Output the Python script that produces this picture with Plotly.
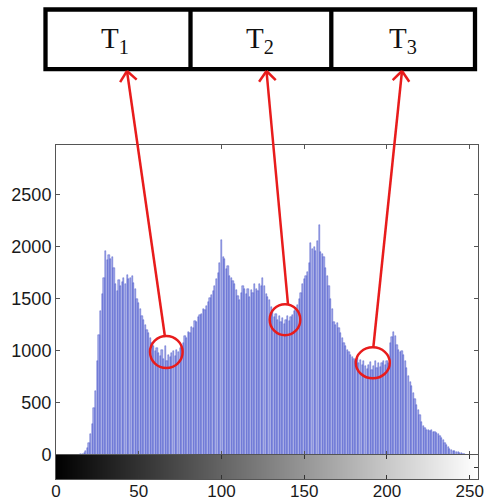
import math
import plotly.graph_objects as go

# ---------------- data ----------------
intensity = list(range(256))
counts = (
    [0] * 15 +
    [5, 10, 20, 40, 70, 120, 200, 300, 450, 620,            # 15-24
     900, 1150, 1380, 1550, 1700, 1960, 1870, 1920, 1880, 1900,   # 25-34
     1800, 1640, 1580, 1680, 1620, 1660, 1700, 1640, 1730, 1690,  # 35-44
     1700, 1720, 1650, 1600, 1500, 1460, 1400, 1340, 1300, 1250,  # 45-54
     1200, 1170, 1120, 1080, 1050, 1000, 1030, 980, 950, 1010,    # 55-64
     920, 1050, 900, 960, 940, 980, 1000, 950, 1010, 990,         # 65-74
     1030, 1050, 1080, 1140, 1120, 1180, 1170, 1230, 1220, 1290,  # 75-84
     1280, 1330, 1350, 1360, 1400, 1390, 1430, 1470, 1510, 1540,  # 85-94
     1580, 1620, 1690, 1750, 1850, 2070, 1900, 1880, 1790, 1820,  # 95-104
     1720, 1700, 1670, 1640, 1590, 1530, 1490, 1560, 1620, 1600,  # 105-114
     1550, 1600, 1520, 1590, 1560, 1640, 1600, 1580, 1640, 1620,  # 115-124
     1700, 1620, 1550, 1520, 1490, 1420, 1380, 1330, 1360, 1300,  # 125-134
     1340, 1280, 1320, 1260, 1300, 1340, 1290, 1330, 1350, 1380,  # 135-144
     1400, 1440, 1500, 1560, 1640, 1690, 1720, 1760, 1850, 2040,  # 145-154
     1980, 2000, 1960, 2060, 2210, 1950, 1930, 1900, 1800, 1720,  # 155-164
     1620, 1500, 1400, 1280, 1250, 1270, 1220, 1170, 1120, 1080,  # 165-174
     1050, 1010, 990, 960, 940, 920, 900, 930, 880, 910,          # 175-184
     870, 900, 860, 830, 870, 890, 820, 860, 900, 840,            # 185-194
     880, 850, 880, 900, 870, 900, 880, 1080, 1130, 1180,         # 195-204
     1140, 1060, 1010, 990, 1000, 960, 900, 840, 760, 700,        # 205-214
     660, 600, 540, 480, 430, 380, 320, 280, 260, 240,            # 215-224
     245, 230, 240, 220, 225, 210, 200, 180, 160, 140,            # 225-234
     120, 100, 80, 60, 50, 40, 35, 30, 25, 20,                    # 235-244
     15, 10, 5, 2] +                                              # 245-248
    [0] * 7
)
x_ticks = [0, 50, 100, 150, 200, 250]
y_ticks = [0, 500, 1000, 1500, 2000, 2500]
threshold_labels = ["T<sub>1</sub>", "T<sub>2</sub>", "T<sub>3</sub>"]

# ---------------- helpers (pixel -> paper) ----------------
W, H = 487, 503
def PX(px):
    return px / W
def PY(py):
    return 1 - py / H

RED = "rgb(232,28,28)"

fig = go.Figure()

fig.add_trace(go.Bar(
    x=intensity, y=counts, xaxis="x", yaxis="y",
    marker=dict(color="rgba(120,130,222,0.66)",
                line=dict(color="rgb(70,80,200)", width=0.45)),
    width=0.75, showlegend=False, hoverinfo="skip"))

fig.add_trace(go.Heatmap(
    x=intensity, y=[0], z=[intensity], xaxis="x2", yaxis="y2",
    colorscale=[[0, "black"], [1, "white"]], zmin=0, zmax=255,
    showscale=False, hoverinfo="skip"))

shapes = []
# table
lw = 4.3
shapes.append(dict(type="rect", xref="paper", yref="paper",
                   x0=PX(45.5), x1=PX(475), y0=PY(69.2), y1=PY(9.5),
                   line=dict(color="black", width=lw)))
for dx in (190.5, 331.3):
    shapes.append(dict(type="line", xref="paper", yref="paper",
                       x0=PX(dx), x1=PX(dx), y0=PY(69.2), y1=PY(9.5),
                       line=dict(color="black", width=lw)))

# circles (center px, radii)
circles = [(166.3, 352, 16.3, 16), (285, 319.7, 15.3, 15.5), (372.8, 362.8, 17, 15.5)]
for cx, cy, rx, ry in circles:
    shapes.append(dict(type="circle", xref="paper", yref="paper",
                       x0=PX(cx - rx), x1=PX(cx + rx), y0=PY(cy + ry), y1=PY(cy - ry),
                       line=dict(color=RED, width=2.5)))

# arrows: tail (circle top) -> tip (table bottom)
arrows = [((165, 337), (127, 71)), ((288, 304.5), (266.5, 71)), ((373.3, 347.5), (402, 71))]
for (tx, ty), (hx, hy) in arrows:
    shapes.append(dict(type="line", xref="paper", yref="paper",
                       x0=PX(tx), y0=PY(ty), x1=PX(hx), y1=PY(hy),
                       line=dict(color=RED, width=2.5)))
    dxv, dyv = tx - hx, ty - hy
    n = math.hypot(dxv, dyv)
    ux, uy = dxv / n, dyv / n
    L, ang = 13, math.radians(40)
    for s in (1, -1):
        rx = ux * math.cos(s * ang) - uy * math.sin(s * ang)
        ry = ux * math.sin(s * ang) + uy * math.cos(s * ang)
        shapes.append(dict(type="line", xref="paper", yref="paper",
                           x0=PX(hx), y0=PY(hy), x1=PX(hx + L * rx), y1=PY(hy + L * ry),
                           line=dict(color=RED, width=2.5)))

annotations = []
for lab, cx in zip(threshold_labels, (115, 260, 402.5)):
    annotations.append(dict(text=lab, xref="paper", yref="paper",
                            x=PX(cx), y=PY(40), xanchor="center", yanchor="middle",
                            showarrow=False,
                            font=dict(family="Liberation Serif", size=29, color="#111")))

axis_col = "#555"
fig.update_layout(
    width=W, height=H, margin=dict(l=0, r=0, t=0, b=0, autoexpand=False),
    paper_bgcolor="white", plot_bgcolor="white",
    bargap=0,
    shapes=shapes, annotations=annotations,
    xaxis=dict(domain=[PX(56), PX(478)], range=[0, 255], anchor="y",
               tickvals=x_ticks, showticklabels=False, ticks="inside", ticklen=4,
               tickcolor=axis_col, mirror="ticks", showline=True, linecolor=axis_col,
               linewidth=1, showgrid=False, zeroline=False),
    yaxis=dict(domain=[PY(455), PY(145)], range=[0, 2980], anchor="x",
               tickvals=y_ticks, ticks="inside", ticklen=4, tickcolor=axis_col,
               mirror="ticks", showline=True, linecolor=axis_col, linewidth=1,
               showgrid=False, zeroline=False,
               tickfont=dict(family="Liberation Sans", size=18, color="#1a1a1a")),
    xaxis2=dict(domain=[PX(56), PX(478)], range=[0, 255], anchor="y2",
                tickvals=x_ticks, ticks="inside", ticklen=4, tickcolor="#333",
                mirror="ticks", showline=True, linecolor=axis_col, linewidth=1,
                showgrid=False, zeroline=False, ticklabelstandoff=-3,
                tickfont=dict(family="Liberation Sans", size=17, color="#1a1a1a")),
    yaxis2=dict(domain=[PY(479), PY(455)], range=[-0.5, 0.5], anchor="x2",
                side="right", tickvals=[0], ticks="inside", ticklen=4,
                tickcolor="#333", showticklabels=False, showline=True, mirror=True,
                linecolor=axis_col, linewidth=1, showgrid=False, zeroline=False),
)

fig.write_html("out.html")
